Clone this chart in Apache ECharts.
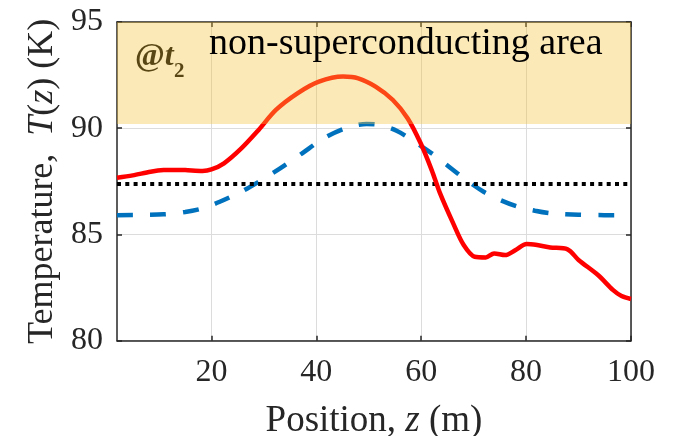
<!DOCTYPE html>
<html><head><meta charset="utf-8">
<script src="https://cdn.jsdelivr.net/npm/echarts@6/dist/echarts.min.js"></script>
<style>html,body{margin:0;padding:0;background:#fff}#c{width:677px;height:436px}</style>
</head><body><div id="c"></div>
<script>
// Position z (m) and temperature T(z) (K)
const zRed = [2, 5, 8.4, 10.9, 13, 15, 18.3, 20, 22.4, 25.7, 29, 32.3, 36.4, 40.5, 45.1, 48, 51.3, 54.6, 57.4, 59.9, 62, 63.6, 66.1, 68.1, 70.2, 72.3, 73.9, 76, 78, 80.1, 82.1, 84.6, 87.9, 90, 93.7, 96.6, 98.2, 100];
const tRed = [87.67, 87.78, 87.95, 88.03, 88.04, 88.03, 87.99, 88.06, 88.35, 89.05, 89.92, 90.86, 91.64, 92.19, 92.43, 92.35, 91.96, 91.33, 90.47, 89.29, 88.03, 86.93, 85.52, 84.50, 83.95, 83.92, 84.11, 84.03, 84.27, 84.55, 84.50, 84.39, 84.30, 83.80, 83.09, 82.38, 82.10, 81.96];
const zBlue = [2, 10.9, 15, 18.3, 21.6, 25.7, 29, 33.1, 37.3, 41.4, 45.5, 49.6, 52.1, 55.4, 58.7, 62, 65.3, 68.6, 71.9, 75.1, 78.4, 81.7, 85, 90, 94.9, 100];
const tBlue = [85.91, 85.95, 86.06, 86.23, 86.54, 87.01, 87.48, 88.11, 88.82, 89.52, 89.99, 90.20, 90.15, 89.87, 89.37, 88.82, 88.19, 87.56, 87.01, 86.62, 86.31, 86.12, 85.99, 85.93, 85.91, 85.91];
const thresholdT = 87.37;
const bandT = [90.2, 95];
const xRange = [2, 100];
const yRange = [80, 95];
const xTicks = [20, 40, 60, 80, 100];
const yTickStep = 5;

const FONT = "'Liberation Serif','Times New Roman',serif";
const AX = '#262626';
const pairs = (a, b) => a.map((v, i) => [v, b[i]]);

const chart = echarts.init(document.getElementById('c'), null, {renderer: 'canvas'});
const axisCommon = {
  type: 'value',
  axisLine: {show: true, onZero: false, lineStyle: {color: AX, width: 1.5}},
};
chart.setOption({
  animation: false,
  backgroundColor: '#fff',
  grid: {left: 117, right: 46, top: 22, bottom: 95.3, containLabel: false, outerBoundsMode: 'none'},
  xAxis: [
    Object.assign({}, axisCommon, {
      min: xRange[0], max: xRange[1], position: 'bottom',
      axisTick: {show: true, inside: true, length: 5, customValues: xTicks, lineStyle: {color: AX, width: 1.5}},
      axisLabel: {customValues: xTicks, fontSize: 32, fontFamily: FONT, color: AX, margin: 16},
      splitLine: {show: true, lineStyle: {color: '#dcdcdc', width: 1}},
      name: 'Position, {i|z} (m)', nameLocation: 'middle', nameGap: 62,
      nameTextStyle: {fontSize: 37, fontFamily: FONT, color: AX,
        rich: {i: {fontSize: 37, fontFamily: FONT, fontStyle: 'italic', color: AX}}}
    }),
    Object.assign({}, axisCommon, {
      min: xRange[0], max: xRange[1], position: 'top',
      axisTick: {show: true, inside: true, length: 5, customValues: xTicks, lineStyle: {color: AX, width: 1.5}},
      axisLabel: {show: false}, splitLine: {show: false}
    })
  ],
  yAxis: [
    Object.assign({}, axisCommon, {
      min: yRange[0], max: yRange[1], interval: yTickStep, position: 'left',
      axisTick: {show: true, inside: true, length: 5, lineStyle: {color: AX, width: 1.5}},
      axisLabel: {fontSize: 32, fontFamily: FONT, color: AX, margin: 14},
      splitLine: {show: true, lineStyle: {color: '#dcdcdc', width: 1}},
      name: 'Temperature,  {i|T}({i|z}) (K)', nameLocation: 'middle', nameGap: 56,
      nameTextStyle: {fontSize: 36, fontFamily: FONT, color: AX,
        rich: {i: {fontSize: 36, fontFamily: FONT, fontStyle: 'italic', color: AX}}}
    }),
    Object.assign({}, axisCommon, {
      min: yRange[0], max: yRange[1], interval: yTickStep, position: 'right',
      axisTick: {show: true, inside: true, length: 5, lineStyle: {color: AX, width: 1.5}},
      axisLabel: {show: false}, splitLine: {show: false}
    })
  ],
  series: [
    {type: 'line', data: pairs(zBlue, tBlue), showSymbol: false, smooth: 0.3, z: 3,
     lineStyle: {color: '#0072BD', width: 4.5, type: [16, 17], cap: 'butt'}},
    {type: 'line', data: [[xRange[0], thresholdT], [xRange[1], thresholdT]], showSymbol: false, z: 4,
     lineStyle: {color: '#000', width: 4, type: [4, 4.3], cap: 'butt'}},
    {type: 'line', data: pairs(zRed, tRed), showSymbol: false, smooth: 0.3, z: 5,
     lineStyle: {color: '#ff0000', width: 4.5}},
    {type: 'custom', z: 10, silent: true,
     data: [[xRange[0], xRange[1], bandT[0], bandT[1]]],
     encode: {x: [0, 1], y: [2, 3]},
     renderItem: function (params, api) {
       const p1 = api.coord([api.value(0), api.value(3)]);
       const p2 = api.coord([api.value(1), api.value(2)]);
       return {type: 'rect', shape: {x: p1[0], y: p1[1], width: p2[0] - p1[0], height: p2[1] - p1[1]},
               style: {fill: 'rgba(247,194,58,0.36)'}};
     }}
  ],
  graphic: [
    {type: 'text', left: 135, top: 41, z: 1,
     style: {text: '{a|@}{b|t}', fill: '#000',
       rich: {a: {fontSize: 32, fontFamily: FONT, fontWeight: 'bold', fill: '#000'},
              b: {fontSize: 32, fontFamily: FONT, fontWeight: 'bold', fontStyle: 'italic', fill: '#000'}}}},
    {type: 'text', left: 174, top: 61, z: 1,
     style: {text: '2', fontSize: 21, fontFamily: FONT, fontWeight: 'bold', fill: '#000'}},
    {type: 'text', left: 209, top: 25, z: 100,
     style: {text: 'non-superconducting area', fontSize: 38, fontFamily: FONT, fill: '#000'}}
  ]
});
</script>
</body></html>
